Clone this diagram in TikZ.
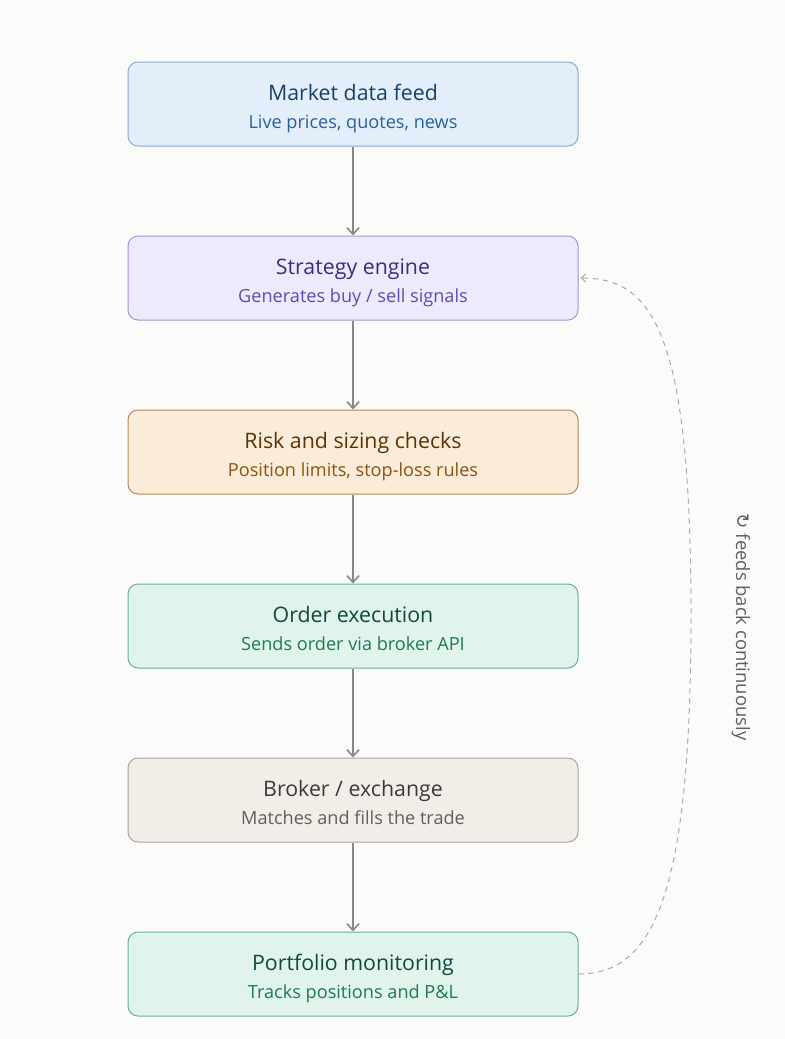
\documentclass[tikz,border=0pt]{standalone}
\usepackage{fontspec}
\setmainfont{Open Sans}
\newfontfamily\symfont{DejaVu Sans}
\usetikzlibrary{arrows.meta}
\definecolor{bg}{HTML}{FBFBF9}
\definecolor{mfill}{HTML}{E3EEFB}\definecolor{mdraw}{HTML}{8AA9CF}\definecolor{mtit}{HTML}{1B3F6B}\definecolor{msub}{HTML}{2A5F99}
\definecolor{sfill}{HTML}{ECEBFD}\definecolor{sdraw}{HTML}{9C97D6}\definecolor{stit}{HTML}{3B2E7E}\definecolor{ssub}{HTML}{5B4DB0}
\definecolor{rfill}{HTML}{FBEBD9}\definecolor{rdraw}{HTML}{B08A5A}\definecolor{rtit}{HTML}{5C3306}\definecolor{rsub}{HTML}{8A5412}
\definecolor{ofill}{HTML}{E0F4EC}\definecolor{odraw}{HTML}{6FAF95}\definecolor{otit}{HTML}{0E4A35}\definecolor{osub}{HTML}{1E7A55}
\definecolor{bfill}{HTML}{F1EEE8}\definecolor{bdraw}{HTML}{A8A49C}\definecolor{btit}{HTML}{3A3A3A}\definecolor{bsub}{HTML}{5F5F5F}
\definecolor{arr}{HTML}{888888}
\definecolor{dash}{HTML}{AAAAAA}
\tikzset{
  box/.style={draw, rounded corners=7.5pt, line width=0.75pt, minimum width=337.5pt, minimum height=63pt, inner sep=0pt},
  tit/.style={anchor=base, inner sep=0pt, font=\fontsize{16}{19}\selectfont},
  sub/.style={anchor=base, inner sep=0pt, font=\fontsize{13.6}{16}\selectfont},
  flow/.style={draw=arr, line width=1.5pt, -{Straight Barb[length=5pt,width=9pt,line width=1.2pt]}},
  back/.style={draw=dash, line width=0.75pt, dash pattern=on 4pt off 3.5pt, -{Straight Barb[length=3.5pt,width=6pt,line width=0.75pt]}},
}
\begin{document}
\begin{tikzpicture}[x=0.75pt,y=-0.75pt]
\fill[bg] (0,0) rectangle (785,1039);
\useasboundingbox (0,0) rectangle (785,1039);
\node[box, fill=mfill, draw=mdraw] (m) at (353,104) {};
\node[box, fill=sfill, draw=sdraw] (s) at (353,278) {};
\node[box, fill=rfill, draw=rdraw] (r) at (353,452) {};
\node[box, fill=ofill, draw=odraw] (o) at (353,626) {};
\node[box, fill=bfill, draw=bdraw] (b) at (353,800) {};
\node[box, fill=ofill, draw=odraw] (p) at (353,974) {};
\node[tit, text=mtit] (mt) at ([yshift=3pt]m.center) {Market data feed};
\node[sub, text=msub] (ms) at ([yshift=-18pt]m.center) {Live prices, quotes, news};
\node[tit, text=stit] (st) at ([yshift=3pt]s.center) {Strategy engine};
\node[sub, text=ssub] (ss) at ([yshift=-18pt]s.center) {Generates buy / sell signals};
\node[tit, text=rtit] (rt) at ([yshift=3pt]r.center) {Risk and sizing checks};
\node[sub, text=rsub] (rs) at ([yshift=-18pt]r.center) {Position limits, stop-loss rules};
\node[tit, text=otit] (ot) at ([yshift=3pt]o.center) {Order execution};
\node[sub, text=osub] (os) at ([yshift=-18pt]o.center) {Sends order via broker API};
\node[tit, text=btit] (bt) at ([yshift=3pt]b.center) {Broker / exchange};
\node[sub, text=bsub] (bs) at ([yshift=-18pt]b.center) {Matches and fills the trade};
\node[tit, text=otit] (pt) at ([yshift=3pt]p.center) {Portfolio monitoring};
\node[sub, text=osub] (ps) at ([yshift=-18pt]p.center) {Tracks positions and P\&L};
\draw[flow] (m) -- (s);
\draw[flow] (s) -- (r);
\draw[flow] (r) -- (o);
\draw[flow] (o) -- (b);
\draw[flow] (b) -- (p);
\coordinate (mid) at (691,615);
\draw[back] (p.east) .. controls (652,974) and (691,900) .. (mid) .. controls (691,330) and (652,278) .. ([xshift=1.5pt]s.east);
\node[rotate=-90, text=bsub, font=\fontsize{13.8}{16}\selectfont] (lbl) at (741,627) {{\symfont\fontsize{13.8}{16}\selectfont ↻} feeds back continuously};
\end{tikzpicture}
\end{document}
